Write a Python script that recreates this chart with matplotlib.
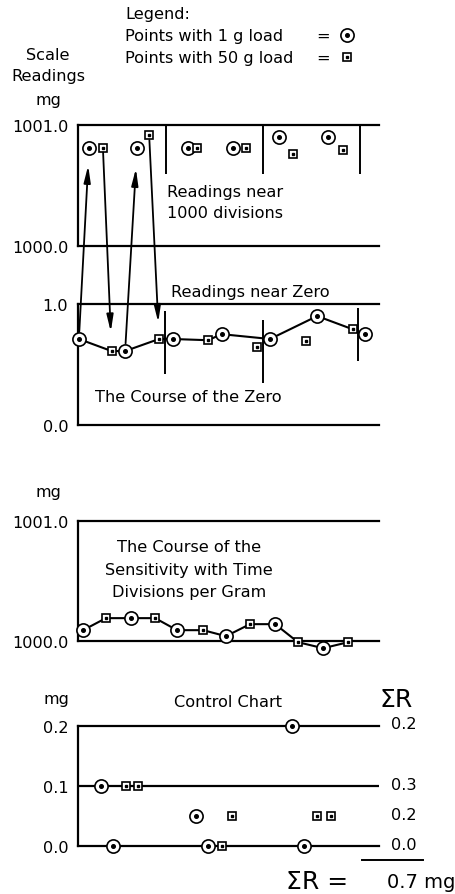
import matplotlib
matplotlib.use('Agg')
import matplotlib.pyplot as plt
from matplotlib.lines import Line2D
from matplotlib.patches import ConnectionPatch

W, H = 455, 895
FS = 11.6

# ---------------- data ----------------
# Readings near 1000 divisions (1 g load circles, 50 g load squares)
top_t_c = [3.7, 19.7, 36.7, 51.7, 67.0, 83.3]
top_c = [1000.81, 1000.81, 1000.81, 1000.81, 1000.90, 1000.90]
top_t_s = [8.3, 23.7, 39.7, 56.0, 71.7, 88.3]
top_s = [1000.81, 1000.92, 1000.81, 1000.81, 1000.76, 1000.79]
top_dividers = [29.3, 61.7, 94.0]
top_div_lo = 1000.59

# Readings near zero
zero_t_c = [0.3, 15.7, 31.6, 47.9, 64.0, 79.7, 95.7]
zero_c = [0.71, 0.61, 0.71, 0.75, 0.71, 0.90, 0.75]
zero_t_s = [11.2, 27.0, 43.3, 59.7, 76.0, 91.6]
zero_s = [0.61, 0.71, 0.70, 0.645, 0.695, 0.79]
zero_s_off_course = [3, 4]          # squares not on the course line
zero_dividers = [29.0, 61.7, 93.3]
zero_div_lo = [0.42, 0.345, 0.525]
zero_div_hi = [0.94, 0.87, 0.97]

# Sensitivity with time (alternating circle / square)
sens_t = [1.7, 9.3, 17.7, 25.7, 33.0, 41.7, 49.3, 57.3, 65.7, 73.3, 81.7, 90.0]
sens = [1000.09, 1000.19, 1000.19, 1000.19, 1000.09, 1000.09,
        1000.04, 1000.14, 1000.14, 999.99, 999.94, 999.99]
sens_kind = ['c', 's'] * 6

# Control chart
ctrl_t_c = [7.7, 11.7, 39.3, 43.3, 71.3, 75.3]
ctrl_c = [0.10, 0.00, 0.05, 0.00, 0.20, 0.00]
ctrl_t_s = [15.9, 20.1, 47.9, 51.3, 79.6, 84.3]
ctrl_s = [0.10, 0.10, 0.00, 0.05, 0.05, 0.05]
sumr_levels = [0.2, 0.1, 0.05, 0.0]
sumr_labels = ['0.2', '0.3', '0.2', '0.0']
sumr_total = '0.7 mg'

# ---------------- helpers ----------------
def fx(x):
    return x / W

def fy(y):
    return 1 - y / H

LW_AX = 1.6
LW = 1.4

fig = plt.figure(figsize=(W / 100, H / 100), dpi=100)

def make_ax(top_px, bot_px, ylo, yhi, ticks, labels):
    ax = fig.add_axes([fx(78), fy(bot_px), 301 / W, (bot_px - top_px) / H])
    ax.set_xlim(0, 100.3)
    ax.set_ylim(ylo, yhi)
    ax.patch.set_visible(False)
    ax.spines['right'].set_visible(False)
    for s in ['left', 'top', 'bottom']:
        ax.spines[s].set_linewidth(LW_AX)
    ax.set_xticks([])
    ax.set_yticks(ticks)
    ax.set_yticklabels(labels, fontsize=FS)
    ax.tick_params(axis='y', length=0, pad=7)
    return ax

def circles(ax, t, v, z=5):
    ax.plot(t, v, 'o', ms=9.5, mfc='white', mec='k', mew=1.2, ls='none',
            clip_on=False, zorder=z)
    ax.plot(t, v, 'o', ms=2.6, color='k', ls='none', clip_on=False, zorder=z + 1)

def squares(ax, t, v, z=5):
    ax.plot(t, v, 's', ms=6.2, mfc='white', mec='k', mew=1.2, ls='none',
            clip_on=False, zorder=z)
    ax.plot(t, v, 's', ms=2.0, color='k', ls='none', clip_on=False, zorder=z + 1)

# ---------------- panel 1 ----------------
ax1 = make_ax(126, 246.7, 1000.0, 1001.0, [1000.0, 1001.0], ['1000.0', '1001.0'])
ax1.vlines(top_dividers, top_div_lo, 1001.0, color='k', lw=LW, clip_on=False)
circles(ax1, top_t_c, top_c)
squares(ax1, top_t_s, top_s)

# ---------------- panel 2 ----------------
ax2 = make_ax(305, 425.7, 0.0, 1.0, [0.0, 1.0], ['0.0', '1.0'])
ax2.vlines(zero_dividers, zero_div_lo, zero_div_hi, color='k', lw=LW, clip_on=False)
course = [(t, v) for t, v in zip(zero_t_c, zero_c)]
course += [(t, v) for i, (t, v) in enumerate(zip(zero_t_s, zero_s))
           if i not in zero_s_off_course]
course.sort()
ax2.plot([p[0] for p in course], [p[1] for p in course], color='k', lw=1.5,
         clip_on=False, zorder=3)
circles(ax2, zero_t_c, zero_c)
squares(ax2, zero_t_s, zero_s)

# ---------------- panel 3 ----------------
ax3 = make_ax(521.7, 642.0, 1000.0, 1001.0, [1000.0, 1001.0], ['1000.0', '1001.0'])
ax3.plot(sens_t, sens, color='k', lw=1.5, clip_on=False, zorder=3)
circles(ax3, [t for t, k in zip(sens_t, sens_kind) if k == 'c'],
        [v for v, k in zip(sens, sens_kind) if k == 'c'])
squares(ax3, [t for t, k in zip(sens_t, sens_kind) if k == 's'],
        [v for v, k in zip(sens, sens_kind) if k == 's'])

# ---------------- panel 4 ----------------
ax4 = make_ax(726.7, 847.3, 0.0, 0.2, [0.0, 0.1, 0.2], ['0.0', '0.1', '0.2'])
ax4.axhline(0.1, color='k', lw=LW_AX, zorder=2)
circles(ax4, ctrl_t_c, ctrl_c)
squares(ax4, ctrl_t_s, ctrl_s)
ytr = ax4.get_yaxis_transform()
for lv, lab in zip(sumr_levels, sumr_labels):
    ax4.text(1.04, lv + 0.003, lab, transform=ytr, ha='left', va='center', fontsize=FS)

# ---------------- arrows ----------------
AST = '-|>,head_length=1.0,head_width=0.2'
def arrow(axA, pA, axB, pB, sA, sB):
    cp = ConnectionPatch(xyA=pA, coordsA=axA.transData, xyB=pB, coordsB=axB.transData,
                         arrowstyle=AST, shrinkA=sA, shrinkB=sB, mutation_scale=10,
                         lw=1.3, color='k', zorder=4)
    fig.add_artist(cp)

arrow(ax2, (zero_t_c[0], zero_c[0]), ax1, (top_t_c[0], top_c[0]), 5.5, 12.7)
arrow(ax1, (top_t_s[0], top_s[0]), ax2, (zero_t_s[0], zero_s[0]), 3.2, 13.9)
arrow(ax2, (zero_t_c[1], zero_c[1]), ax1, (top_t_c[1], top_c[1]), 5.5, 14.9)
arrow(ax1, (top_t_s[1], top_s[1]), ax2, (zero_t_s[1], zero_s[1]), 4.0, 12.0)

# ---------------- texts ----------------
def T(x, y, s, ha='left', size=FS, **kw):
    fig.text(fx(x), fy(y), s, ha=ha, va='center', fontsize=size, **kw)

T(125, 15, 'Legend:')
T(125, 36, 'Points with 1 g load')
T(125, 58, 'Points with 50 g load')
T(323, 36, '=', ha='center')
T(323, 58, '=', ha='center')
fig.add_artist(Line2D([fx(347)], [fy(36)], transform=fig.transFigure, marker='o', ms=9.5,
                      mfc='white', mec='k', mew=1.2, ls='none'))
fig.add_artist(Line2D([fx(347)], [fy(36)], transform=fig.transFigure, marker='o', ms=2.6,
                      color='k', ls='none'))
fig.add_artist(Line2D([fx(347)], [fy(58)], transform=fig.transFigure, marker='s', ms=6.2,
                      mfc='white', mec='k', mew=1.2, ls='none'))
fig.add_artist(Line2D([fx(347)], [fy(58)], transform=fig.transFigure, marker='s', ms=2.0,
                      color='k', ls='none'))

T(48, 55, 'Scale', ha='center')
T(48, 77, 'Readings', ha='center')
T(48, 100, 'mg', ha='center')

T(167, 192, 'Readings near')
T(167, 214, '1000 divisions')
T(250, 292, 'Readings near Zero', ha='center')
T(188, 397, 'The Course of the Zero', ha='center')

T(48, 493, 'mg', ha='center')
T(189, 548, 'The Course of the', ha='center')
T(189, 571, 'Sensitivity with Time', ha='center')
T(189, 593, 'Divisions per Gram', ha='center')

T(56, 700, 'mg', ha='center')
T(228, 703, 'Control Chart', ha='center')
T(396, 700, 'ΣR', ha='center', size=18)
fig.add_artist(Line2D([fx(362), fx(423)], [fy(861), fy(861)], transform=fig.transFigure,
                      color='k', lw=1.4))
T(317, 882, 'ΣR =', ha='center', size=18)
T(387, 883, sumr_total, ha='left', size=14)

fig.savefig('out.png', dpi=100)
